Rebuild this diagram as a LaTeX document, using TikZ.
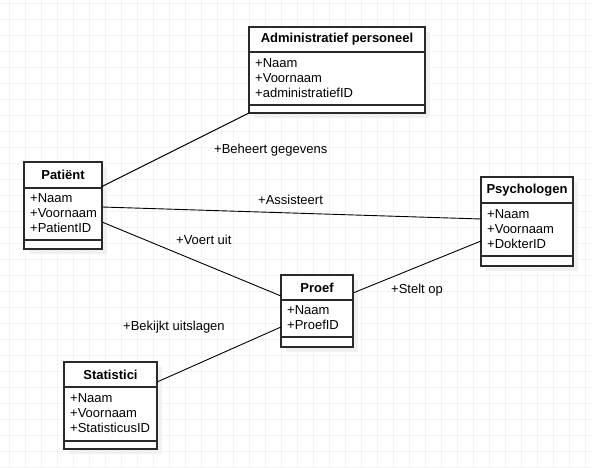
\documentclass[tikz,border=0pt]{standalone}
\usepackage{fontspec}
\setmainfont{Liberation Sans}
\usetikzlibrary{shadows}
\definecolor{gridc}{HTML}{F3F3F3}
\definecolor{shadc}{HTML}{F1F1F1}
\definecolor{edgec}{HTML}{2A2A2A}
\tikzset{
  cls/.style={draw=edgec, line width=1.1pt, fill=white, rectangle, inner sep=0pt,
    drop shadow={shadow xshift=5pt, shadow yshift=-5pt, fill=shadc, opacity=1}},
  sep/.style={draw=edgec, line width=1.1pt},
  ttl/.style={font=\fontsize{13}{15}\selectfont\bfseries, inner sep=0pt},
  attr/.style={font=\fontsize{13}{15}\selectfont, inner sep=0pt, anchor=west, align=left},
  lbl/.style={font=\fontsize{13}{15}\selectfont, inner sep=0pt, anchor=west},
  conn/.style={draw=black, line width=0.9pt},
  gridline/.style={draw=gridc, line width=0.7pt}
}
\begin{document}
\begin{tikzpicture}[x=1pt,y=-1pt]
\useasboundingbox[fill=white] (0,0) rectangle (592,468);
% grid
\foreach \k in {0,...,36} \draw[gridline] ({9.3+16*\k},0) -- ({9.3+16*\k},468);
\foreach \k in {0,...,29} \draw[gridline] (0,{3.3+16*\k}) -- (592,{3.3+16*\k});

% Administratief personeel: x 249-425, y 27-113
\node[cls, minimum width=176pt, minimum height=86pt] (adm) at (337,70) {};
\draw[sep] (249,52) -- (425,52);
\draw[sep] (249,105) -- (425,105);
\node[ttl] (admt) at (337,39.5) {Administratief personeel};
\node[attr] (adma) at (255,78) {+Naam\\+Voornaam\\+administratiefID};

% Patient: x 24-102, y 162-249
\node[cls, minimum width=78pt, minimum height=87pt] (pat) at (63,205.5) {};
\draw[sep] (24,188) -- (102,188);
\draw[sep] (24,240) -- (102,240);
\node[ttl] (patt) at (63,175) {Patiënt};
\node[attr] (pata) at (30,213.5) {+Naam\\+Voornaam\\+PatientID};

% Psychologen: x 481-573, y 177-266
\node[cls, minimum width=92pt, minimum height=89pt] (psy) at (527,221.5) {};
\draw[sep] (481,203) -- (573,203);
\draw[sep] (481,256) -- (573,256);
\node[ttl] (psyt) at (527,190) {Psychologen};
\node[attr] (psya) at (487,229.5) {+Naam\\+Voornaam\\+DokterID};

% Proef: x 281-353, y 275-347
\node[cls, minimum width=72pt, minimum height=72pt] (prf) at (317,311) {};
\draw[sep] (281,300) -- (353,300);
\draw[sep] (281,337) -- (353,337);
\node[ttl] (prft) at (317,287.5) {Proef};
\node[attr] (prfa) at (287,318) {+Naam\\+ProefID};

% Statistici: x 64-157, y 362-449
\node[cls, minimum width=93pt, minimum height=87pt] (sta) at (110.5,405.5) {};
\draw[sep] (64,387) -- (157,387);
\draw[sep] (64,441) -- (157,441);
\node[ttl] (stat) at (110.5,374.5) {Statistici};
\node[attr] (staa) at (70,413.5) {+Naam\\+Voornaam\\+StatisticusID};

% connector end points
\coordinate (patR1) at (102,186.5);
\coordinate (patR2) at (102,207);
\coordinate (patR3) at (102,222);
\coordinate (admBL) at (249,113);
\coordinate (psyL1) at (481,219);
\coordinate (psyL2) at (481,241);
\coordinate (prfL1) at (281,296);
\coordinate (prfR1) at (353,293);
\coordinate (prfL2) at (281,327);
\coordinate (staR) at (157,382);

\draw[conn] (patR1) -- (admBL);
\draw[conn] (patR2) -- (psyL1);
\draw[conn] (patR3) -- (prfL1);
\draw[conn] (prfR1) -- (psyL2);
\draw[conn] (staR) -- (prfL2);

% labels
\node[lbl] (l1) at (214,150) {+Beheert gegevens};
\node[lbl] (l2) at (258,200) {+Assisteert};
\node[lbl] (l3) at (176,240) {+Voert uit};
\node[lbl] (l4) at (391,290) {+Stelt op};
\node[lbl] (l5) at (123,327) {+Bekijkt uitslagen};
\end{tikzpicture}
\end{document}
